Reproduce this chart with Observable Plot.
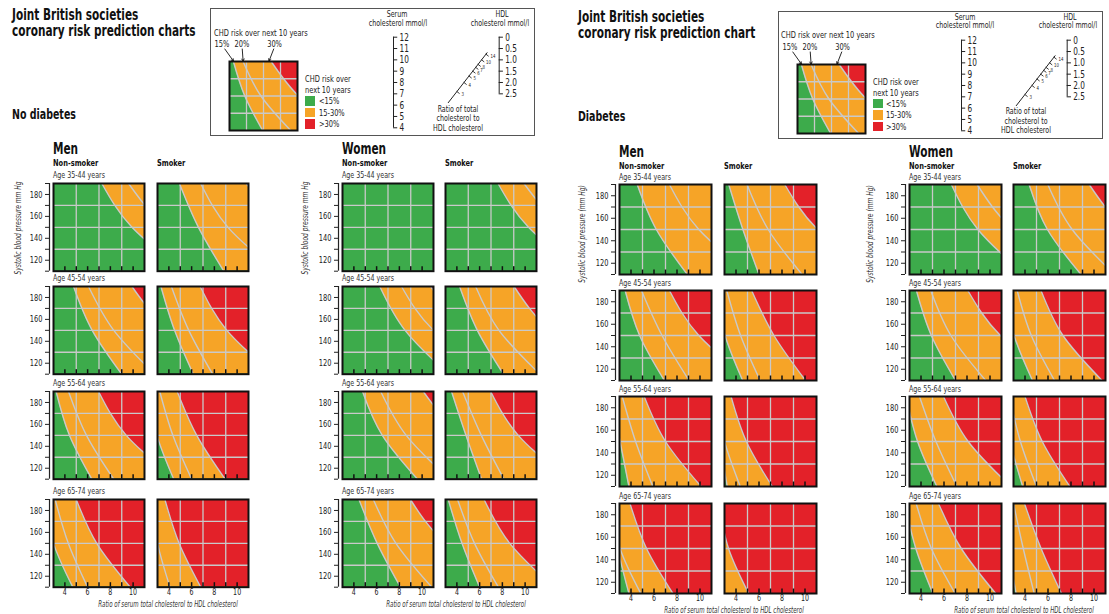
<!DOCTYPE html>
<html><head><meta charset="utf-8">
<script src="https://cdn.jsdelivr.net/npm/d3@7"></script>
<script src="https://cdn.jsdelivr.net/npm/@observablehq/plot@0.6"></script>
<style>
body{margin:0;background:#fff;}
#root{position:relative;width:1109px;height:614px;overflow:hidden;font-family:"Liberation Sans Narrow","Arial Narrow","DejaVu Sans Condensed",sans-serif;}
#root div{white-space:nowrap;line-height:1;}
</style></head>
<body><div id="root"></div>
<script>
// ---------- data ----------
const sheetTitles = ["No diabetes", "Diabetes"];
const headerLines = [["Joint British societies", "coronary risk prediction charts"], ["Joint British societies", "coronary risk prediction chart"]];
const sexes = ["Men", "Women"];
const smoking = ["Non-smoker", "Smoker"];
const ageGroups = ["Age 35-44 years", "Age 45-54 years", "Age 55-64 years", "Age 65-74 years"];
const riskLabels = ["15%", "20%", "30%"];
const riskCategories = ["<15%", "15-30%", ">30%"];
const sbpLevels = [190, 150, 110];            // SBP where each iso-risk curve is read
const xTicks = [4, 6, 8, 10];
const xMinorTicks = [4, 5, 6, 7, 8, 9, 10];
const yTicks = [110, 120, 130, 140, 150, 160, 170, 180, 190];
const yLabels = [120, 140, 160, 180];
const gridX = [5, 7, 9];
const gridY = [130, 150, 170];
const serumTicks = [4, 5, 6, 7, 8, 9, 10, 11, 12];
const hdlTicks = [0, 0.5, 1, 1.5, 2, 2.5];
const ratioTicks = [3, 4, 5, 6, 7, 8, 10, 14];

// iso-risk curves: ratio at SBP 190,150,110 for [15%, 20%, 30%], one entry per age group
const noDiabMenNS = [
  [[7.25, 9.9, 14.5], [9.6, 13.0, 19.0], [13, 17.5, 26]],
  [[4.76, 6.4, 9.0], [6.08, 8.3, 11.9], [9.9, 13.3, 19.5]],
  [[3.23, 4.4, 6.37], [4.32, 5.9, 8.3], [6.96, 9.4, 13.7]],
  [[2.2, 3.0, 4.7], [3.15, 4.3, 6.0], [5.0, 6.8, 9.75]]
];
const noDiabMenS = [
  [[4.93, 6.6, 8.83], [6.8, 9.2, 13.5], [10.8, 14.5, 21]],
  [[3.3, 4.5, 6.15], [4.22, 5.75, 7.85], [6.75, 9.1, 13.2]],
  [[2.2, 2.95, 4.43], [3.2, 4.35, 6.0], [4.73, 6.45, 8.95]],
  [[1.5, 2.0, 3.0], [2.4, 3.0, 4.1], [3.65, 4.9, 6.8]]
];
const noDiabWomenNS = [
  [[12.5, 17, 25], [15, 20, 30], [20, 27, 40]],
  [[6.28, 8.5, 12.3], [8.19, 11.0, 16.2], [10.75, 14.4, 21]],
  [[4.76, 6.5, 9.6], [6.36, 8.6, 12.4], [10.1, 13.6, 20]],
  [[4.45, 6.05, 8.1], [5.71, 7.7, 10.85], [8.97, 12.1, 17.8]]
];
const noDiabWomenS = [
  [[7.62, 10.3, 15], [9.9, 13.4, 19.5], [13, 17.5, 26]],
  [[4.24, 5.8, 8.1], [5.65, 7.7, 11.3], [9.03, 12.2, 17.8]],
  [[3.53, 4.8, 6.17], [4.5, 6.15, 8.14], [6.97, 9.4, 13.7]],
  [[3.24, 4.45, 6.0], [4.06, 5.55, 7.65], [6.39, 8.65, 12.5]]
];
const diabMenNS = [
  [[4.54, 6.2, 8.9], [7.34, 9.9, 14.4], [12, 16, 24]],
  [[3.49, 4.75, 6.9], [4.91, 6.7, 9.05], [7.34, 9.9, 14.4]],
  [[2.3, 3.05, 3.82], [3.24, 4.4, 5.9], [5.15, 7.0, 10.1]],
  [[2.2, 2.85, 3.82], [2.25, 3.05, 4.85], [3.91, 5.35, 7.65]]
];
const diabMenS = [
  [[3.37, 4.6, 6.0], [4.96, 6.8, 9.75], [8.24, 11.1, 16.2]],
  [[2.25, 3.05, 4.58], [3.2, 4.4, 6.1], [5.36, 7.3, 10.05]],
  [[1.9, 2.55, 3.24], [2.2, 3.0, 4.37], [3.57, 4.9, 7.15]],
  [[1.2, 1.6, 2.2], [1.6, 2.1, 2.9], [2.5, 3.35, 5.1]]
];
const diabWomenNS = [
  [[6.64, 8.95, 13.0], [8.88, 12.0, 17.5], [12, 16, 24]],
  [[3.6, 4.9, 7.0], [4.85, 6.6, 9.63], [8.07, 10.9, 15.9]],
  [[2.7, 3.7, 5.38], [3.87, 5.3, 7.12], [5.96, 8.1, 11.8]],
  [[2.6, 3.55, 5.03], [3.58, 4.9, 6.97], [5.52, 7.5, 10.5]]
];
const diabWomenS = [
  [[4.36, 5.95, 8.87], [5.98, 8.1, 11.8], [9.58, 12.9, 18.9]],
  [[2.2, 3.05, 4.65], [3.32, 4.55, 6.57], [5.39, 7.3, 10.7]],
  [[2.0, 2.7, 3.8], [2.65, 3.6, 5.0], [4.0, 5.5, 7.9]],
  [[1.85, 2.5, 3.23], [3.0, 3.85, 4.8], [3.95, 5.4, 7.17]]
];
const legendCurves = [[3.46, 4.8, 6.9], [4.6, 6.7, 10.2], [7.9, 11.1, 16]];

// ---------- style / layout ----------
const GREEN = "#3dab4b", ORANGE = "#f6a427", RED = "#e32129", GRID = "#c9c9c9", INK = "#222";
const FONT = '"Liberation Sans Narrow","Arial Narrow","DejaVu Sans Condensed",sans-serif';
const SX = 0.78;
const root = document.getElementById("root");

function condense(svg, f) {
  svg.querySelectorAll("text").forEach(t => {
    const spans = t.querySelectorAll("tspan");
    (spans.length ? [...spans] : [t]).forEach(el => {
      const L = el.getComputedTextLength();
      if (L > 0) { el.setAttribute("textLength", (L * f).toFixed(2)); el.setAttribute("lengthAdjust", "spacingAndGlyphs"); }
    });
  });
}
function place(node, left, top, f = SX) {
  node.style.position = "absolute";
  node.style.left = left + "px";
  node.style.top = top + "px";
  root.appendChild(node);
  condense(node, f);
}
function txt(s, x, cy, o = {}) {
  const d = document.createElement("div");
  d.textContent = s;
  d.style.position = "absolute";
  d.style.left = x + "px";
  d.style.top = cy + "px";
  d.style.fontSize = (o.size || 9) + "px";
  d.style.fontWeight = o.bold ? "700" : "400";
  d.style.fontStyle = o.italic ? "italic" : "normal";
  d.style.color = o.color || INK;
  let t = o.center ? "translate(-50%,-50%)" : "translateY(-50%)";
  if (o.rotate) t = "translate(-50%,-50%) rotate(-90deg)";
  t += ` scaleX(${o.sx || SX})`;
  d.style.transform = t;
  d.style.transformOrigin = o.center || o.rotate ? "50% 50%" : "0 50%";
  root.appendChild(d);
}

function panel(curves, left, top, w, h, opt = {}) {
  const {yAxis = false, xAxis = false, ticks = true} = opt;
  const ml = yAxis ? 40 : 2, mr = 2, mt = 2, mb = xAxis ? 14 : 2;
  const pts = c => sbpLevels.map((s, i) => ({sbp: s, ratio: c[i]}));
  const [p15, p20, p30] = curves.map(pts);
  const u = 80 / h;
  const marks = [
    Plot.frame({fill: GREEN}),
    Plot.areaX(p15, {y: "sbp", x1: "ratio", x2: 60, fill: ORANGE, curve: "natural", clip: true}),
    Plot.areaX(p30, {y: "sbp", x1: "ratio", x2: 60, fill: RED, curve: "natural", clip: true}),
    Plot.ruleX(gridX, {stroke: GRID, strokeWidth: 1.3}),
    Plot.ruleY(gridY, {stroke: GRID, strokeWidth: 1.3}),
    ...[p15, p20, p30].map(p => Plot.line(p, {x: "ratio", y: "sbp", stroke: GRID, strokeWidth: 1.4, curve: "natural", clip: true}))
  ];
  if (ticks) marks.push(Plot.ruleX(xMinorTicks, {y1: 110, y2: 110 + 4.5 * u, stroke: "#111", strokeWidth: 1.5}));
  if (yAxis) marks.push(
    Plot.ruleX([3], {y1: 110, y2: 190, dx: -4, stroke: INK, strokeWidth: 1.2}),
    Plot.axisY(yTicks, {anchor: "left", dx: -4, tickSize: 4, tickPadding: 3, fontSize: 9.5, label: null,
      tickFormat: d => yLabels.includes(d) ? String(d) : ""})
  );
  if (xAxis) marks.push(Plot.axisX(xTicks, {anchor: "bottom", tickSize: 0, tickPadding: 1.5, fontSize: 9, label: null}));
  if (opt.extra) marks.push(...opt.extra(u));
  marks.push(Plot.frame({stroke: "#111", strokeWidth: 2}));
  const svg = Plot.plot({
    width: w + ml + mr, height: h + mt + mb + (opt.mtExtra || 0),
    marginLeft: ml, marginRight: mr, marginTop: mt + (opt.mtExtra || 0), marginBottom: mb,
    x: {domain: [3, 11], axis: xAxis ? undefined : null},
    y: {domain: [110, 190], axis: yAxis ? undefined : null},
    style: {background: "none", fontFamily: FONT, color: INK, overflow: "visible"},
    marks
  });
  place(svg, left - ml, top - mt - (opt.mtExtra || 0));
}

// nomogram: x 0 = serum axis, 1 = HDL axis; y in serum units (HDL h sits at 12-2h)
function nomogram(ox, oy) {
  const ml = 10, mr = 32, mt = 10.7, top = 26;
  const hdlY = h => 12 - 2 * h;
  const rX = r => r / (r + 2), rY = r => 12 * r / (r + 2);
  const svg = Plot.plot({
    width: ml + 105.7 + mr, height: 127.3 - top + 8,
    marginLeft: ml, marginRight: mr, marginTop: mt, marginBottom: 8,
    x: {domain: [0, 1], axis: null}, y: {domain: [4, 12], axis: null},
    style: {background: "none", fontFamily: FONT, color: INK, overflow: "visible"},
    marks: [
      Plot.ruleX([0], {y1: 4, y2: 12, stroke: INK}),
      Plot.ruleY(serumTicks, {y: d => d, x1: 0, x2: 0.04, stroke: INK}),
      Plot.text(serumTicks, {x: 0, y: d => d, text: d => String(d), dx: 6, textAnchor: "start", fontSize: 10.5}),
      Plot.ruleX([1], {y1: hdlY(0), y2: hdlY(2.5), stroke: INK}),
      Plot.ruleY(hdlTicks, {y: hdlY, x1: 1, x2: 1.04, stroke: INK}),
      Plot.text(hdlTicks, {x: 1, y: hdlY, text: d => d === 0 ? "0" : d.toFixed(1), dx: 6, textAnchor: "start", fontSize: 10.5}),
      Plot.line([2.15, 15.5], {x: rX, y: rY, stroke: INK, strokeWidth: 1}),
      Plot.vector(ratioTicks, {x: rX, y: rY, length: 3, rotate: 128, anchor: "start", stroke: INK, strokeWidth: 0.8,
        shape: {draw(ctx, l) { ctx.moveTo(0, 0); ctx.lineTo(0, -l); }}}),
      Plot.text(ratioTicks, {x: rX, y: rY, text: d => String(d), dx: 4.5, dy: 2.5, fontSize: 5.5, textAnchor: "start"})
    ]
  });
  place(svg, ox + 393.3 - ml, oy + top);
}

function legendBox(ox, oy) {
  const box = document.createElement("div");
  box.style.cssText = `position:absolute;left:${ox + 210}px;top:${oy + 8}px;width:325px;height:128px;border:1px solid #555;box-sizing:border-box;`;
  root.appendChild(box);
  txt("CHD risk over next 10 years", ox + 213.5, oy + 32.5, {size: 9.5});
  const labelX = [2.1, 4.45, 8.3];
  panel(legendCurves, ox + 229, oy + 61, 68, 69, {ticks: false, mtExtra: 24, extra: u => [
    Plot.text(riskLabels, {x: (d, i) => labelX[i], y: 190 + 18 * u, text: d => d, fontSize: 9.5}),
    Plot.arrow(riskLabels, {x1: (d, i) => labelX[i] + (i === 0 ? 0.35 : i === 2 ? -0.1 : 0.05), y1: 190 + 12.5 * u,
      x2: (d, i) => legendCurves[i][0] - (i === 2 ? 0.25 : 0), y2: 190.5, stroke: "#111", strokeWidth: 0.9, headLength: 4, clip: false})
  ]});
  txt("CHD risk over", ox + 305, oy + 79, {size: 9.5});
  txt("next 10 years", ox + 305, oy + 90, {size: 9.5});
  [GREEN, ORANGE, RED].forEach((c, i) => {
    const s = document.createElement("div");
    s.style.cssText = `position:absolute;left:${ox + 305}px;top:${oy + 96 + i * 11.7}px;width:10px;height:9.5px;background:${c};`;
    root.appendChild(s);
    txt(riskCategories[i], ox + 318.5, oy + 101 + i * 11.7, {size: 9.5});
  });
  txt("Serum", ox + 397.3, oy + 14.3, {size: 9, center: true});
  txt("cholesterol mmol/l", ox + 397.5, oy + 22.5, {size: 9, center: true});
  txt("HDL", ox + 502, oy + 14.3, {size: 9, center: true});
  txt("cholesterol mmol/l", ox + 500, oy + 22.5, {size: 9, center: true});
  txt("Ratio of total", ox + 458, oy + 108.5, {size: 9, center: true});
  txt("cholesterol to", ox + 458, oy + 118, {size: 9, center: true});
  txt("HDL cholesterol", ox + 458, oy + 127.5, {size: 9, center: true});
  nomogram(ox, oy);
}

// ---------- sheets ----------
const sheets = [
  {headY: [15, 31], titleY: 115, data: [[noDiabMenNS, noDiabMenS], [noDiabWomenNS, noDiabWomenS]],
   colX: [[53.3, 157.3], [341.7, 445]], rowY: [182.7, 285.7, 391.3, 499.3], w: 91, h: 87.7,
   sexY: 149, smokeY: 163.3, ageDy: -8, yTitle: "Systolic blood pressure mm Hg", yTitleX: [17.5, 305], yTitleY: 228,
   xTitleY: 604, legend: [0, 0]},
  {headY: [17, 33], titleY: 117, data: [[diabMenNS, diabMenS], [diabWomenNS, diabWomenS]],
   colX: [[619, 723.5], [909.3, 1013.3]], rowY: [184.3, 290, 396, 502.7], w: 92, h: 90,
   sexY: 151.7, smokeY: 165.7, ageDy: -7, yTitle: "Systolic blood pressure (mm Hg)", yTitleX: [582, 869.5], yTitleY: 234,
   xTitleY: 609.5, legend: [567.7, 2.5]}
];

sheets.forEach((S, si) => {
  const left = si === 0 ? 12 : 578;
  txt(headerLines[si][0], left, S.headY[0], {size: 15, bold: true, color: "#111"});
  txt(headerLines[si][1], left, S.headY[1], {size: 15, bold: true, color: "#111"});
  txt(sheetTitles[si], left, S.titleY, {size: 13.5, bold: true, color: "#111"});
  legendBox(S.legend[0], S.legend[1]);
  sexes.forEach((sex, gi) => {
    const [cx0, cx1] = S.colX[gi];
    txt(sex, cx0, S.sexY, {size: 15, bold: true, color: "#111"});
    txt(smoking[0], cx0, S.smokeY, {size: 9.5, bold: true, color: "#111"});
    txt(smoking[1], cx1, S.smokeY, {size: 9.5, bold: true, color: "#111"});
    txt(S.yTitle, S.yTitleX[gi], S.yTitleY, {size: 8.5, italic: true, rotate: true, color: "#333"});
    txt("Ratio of serum total cholesterol to HDL cholesterol", (cx0 + cx1 + S.w) / 2 + 17, S.xTitleY, {size: 8.5, italic: true, center: true, color: "#333", sx: 0.72});
    ageGroups.forEach((age, ai) => {
      txt(age, cx0, S.rowY[ai] + S.ageDy, {size: 9, color: "#333"});
      [0, 1].forEach(k => {
        panel(S.data[gi][k][ai], S.colX[gi][k], S.rowY[ai], S.w, S.h, {yAxis: k === 0, xAxis: ai === 3});
      });
    });
  });
});
</script></body></html>
